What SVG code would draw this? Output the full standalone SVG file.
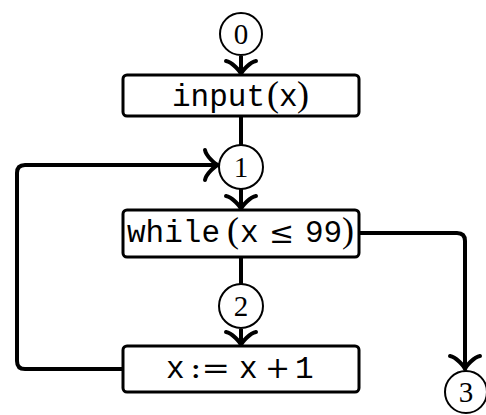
<svg xmlns="http://www.w3.org/2000/svg" width="486" height="415" viewBox="0 0 486 415">
<style>
.box{fill:#fff;stroke:#000;stroke-width:3}
.circ{fill:#fff;stroke:#000;stroke-width:2}
.edge{fill:none;stroke:#000;stroke-width:4}
.mono{font-family:"Liberation Mono","DejaVu Sans Mono",monospace;font-size:31px;fill:#000}
.par{font-family:"Liberation Serif","DejaVu Serif",serif;font-size:36px;fill:#000}
.sym{font-family:"DejaVu Serif","Liberation Serif",serif;font-size:30px;fill:#000}
.num{font-family:"Liberation Serif","DejaVu Serif",serif;font-size:29px;fill:#000;text-anchor:middle}
</style>
<defs>
<marker id="to" markerUnits="userSpaceOnUse" viewBox="-16 -18 22 36" markerWidth="22" markerHeight="36" refX="0" refY="0" orient="auto" overflow="visible">
<path d="M-12,-15 C-11,-9 -2,-1 1,0 C-2,1 -11,9 -12,15" fill="none" stroke="#000" stroke-width="4" stroke-linecap="round" stroke-linejoin="round"/>
</marker>
</defs>
<g id="connectors">
<path class="edge" d="M241,56 V73" marker-end="url(#to)"/>
<path class="edge" d="M241,116 V146"/>
<path class="edge" d="M241,189 V208" marker-end="url(#to)"/>
<path class="edge" d="M241,257 V285"/>
<path class="edge" d="M241,329 V344" marker-end="url(#to)"/>
<path class="edge" d="M123,369 H25 Q17,369 17,361 V173 Q17,165 25,165 H217" marker-end="url(#to)"/>
<path class="edge" d="M359,233 H457 Q465,233 465,241 V368" marker-end="url(#to)"/>
</g>
<g id="n0">
<circle class="circ" cx="241" cy="34" r="21"/>
<text class="num" x="241" y="44">0</text>
</g>
<g id="input">
<rect class="box" x="123" y="75" width="236" height="41" rx="4"/>
<text class="mono" x="172" y="106">input</text>
<text class="par" x="267" y="106">(</text>
<text class="mono" x="279" y="106">x</text>
<text class="par" x="297" y="106">)</text>
</g>
<g id="n1">
<circle class="circ" cx="241" cy="167" r="22"/>
<text class="num" x="241" y="177">1</text>
</g>
<g id="while">
<rect class="box" x="123" y="210" width="236" height="47" rx="4"/>
<text class="mono" x="127" y="242">while</text>
<text class="par" x="227" y="242">(</text>
<text class="mono" x="240" y="242">x</text>
<text class="sym" x="269" y="243">≤</text>
<text class="mono" x="305" y="242">99</text>
<text class="par" x="342" y="242">)</text>
</g>
<g id="n2">
<circle class="circ" cx="241" cy="306" r="22"/>
<text class="num" x="241" y="316">2</text>
</g>
<g id="assign">
<rect class="box" x="123" y="346" width="236" height="46" rx="4"/>
<text class="mono" x="166" y="378">x</text>
<text class="sym" x="190" y="378" textLength="40" lengthAdjust="spacingAndGlyphs">:=</text>
<text class="mono" x="239" y="378">x</text>
<text class="sym" x="265" y="378">+</text>
<text class="mono" x="295" y="378">1</text>
</g>
<g id="n3">
<circle class="circ" cx="466" cy="392" r="21"/>
<text class="num" x="466" y="402">3</text>
</g>
</svg>
